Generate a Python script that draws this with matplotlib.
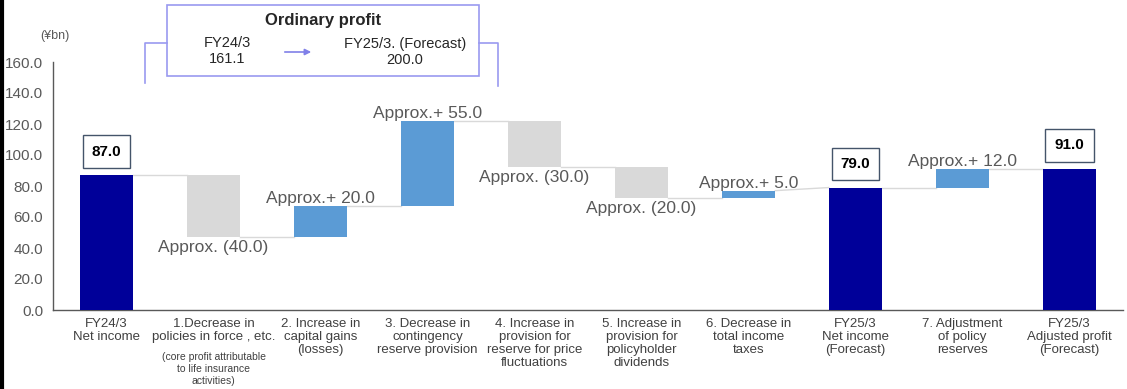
import matplotlib
matplotlib.use("Agg")
import matplotlib.pyplot as plt
from matplotlib.patches import Rectangle, FancyArrowPatch
from matplotlib.lines import Line2D

plt.rcParams["font.family"] = ["Liberation Sans", "DejaVu Sans"]

# Net income bridge, FY24/3 -> FY25/3 (¥bn)
categories = [
    "FY24/3\nNet income",
    "1.Decrease in\npolicies in force , etc.",
    "2. Increase in\ncapital gains\n(losses)",
    "3. Decrease in\ncontingency\nreserve provision",
    "4. Increase in\nprovision for\nreserve for price\nfluctuations",
    "5. Increase in\nprovision for\npolicyholder\ndividends",
    "6. Decrease in\ntotal income\ntaxes",
    "FY25/3\nNet income\n(Forecast)",
    "7. Adjustment\nof policy\nreserves",
    "FY25/3\nAdjusted profit\n(Forecast)",
]
sub_note = "(core profit attributable\nto life insurance\nactivities)"

start_value = 87.0
factor_deltas = [-40.0, 20.0, 55.0, -30.0, -20.0, 5.0]
net_forecast = 79.0
adjust_delta = 12.0
adjusted_forecast = 91.0

ordinary_prev = "161.1"
ordinary_next = "200.0"

NAVY = "#000099"
UP = "#5b9bd5"
DOWN = "#d9d9d9"
TXT = "#595959"

# build bar bottoms/heights
bottoms, heights, colors, kinds = [], [], [], []
bottoms.append(0); heights.append(start_value); colors.append(NAVY); kinds.append("total")
level = start_value
for d in factor_deltas:
    bottoms.append(min(level, level + d)); heights.append(abs(d))
    colors.append(UP if d > 0 else DOWN); kinds.append(d)
    level += d
bottoms.append(0); heights.append(net_forecast); colors.append(NAVY); kinds.append("total")
bottoms.append(net_forecast); heights.append(adjust_delta); colors.append(UP); kinds.append(adjust_delta)
bottoms.append(0); heights.append(adjusted_forecast); colors.append(NAVY); kinds.append("total")

fig = plt.figure(figsize=(11.27, 3.89), dpi=100)
ax = fig.add_axes([53 / 1127, 1 - 310 / 389, 1070 / 1127, 248 / 389])

x = list(range(len(categories)))
w = 0.5
ax.bar(x, heights, bottom=bottoms, width=w, color=colors, zorder=3)

# connector lines between bars
def end_level(i):
    k = kinds[i]
    if k == "total":
        return bottoms[i] + heights[i]
    return bottoms[i] + heights[i] if k > 0 else bottoms[i]

def start_level(i):
    k = kinds[i]
    if k == "total":
        return bottoms[i] + heights[i]
    return bottoms[i] if k > 0 else bottoms[i] + heights[i]

for i in range(len(x) - 1):
    ax.plot([i + w / 2, i + 1 - w / 2], [end_level(i), start_level(i + 1)],
            color="#d9d9d9", lw=1, zorder=2)

# value boxes on totals, approx labels on the factors
for i, k in enumerate(kinds):
    if k == "total":
        top = bottoms[i] + heights[i]
        ax.annotate(f"{top:.1f}", (i, top), xytext=(0, 17), textcoords="offset points",
                    ha="center", va="center", fontsize=11, fontweight="bold", color="black",
                    bbox=dict(boxstyle="square,pad=0.6", fc="white", ec="#44546a", lw=1),
                    zorder=5)
    else:
        if k > 0:
            ax.annotate(f"Approx.+ {k:.1f}", (i, bottoms[i] + heights[i]), xytext=(0, 0),
                        textcoords="offset points", ha="center", va="bottom",
                        fontsize=12.5, color=TXT, zorder=4)
        else:
            ax.annotate(f"Approx. ({-k:.1f})", (i, bottoms[i]), xytext=(0, -2),
                        textcoords="offset points", ha="center", va="top",
                        fontsize=12.5, color=TXT, zorder=4)

ax.set_xlim(-0.5, len(x) - 0.5)
ax.set_ylim(0, 160)
ax.set_yticks([0, 20, 40, 60, 80, 100, 120, 140, 160])
ax.set_yticklabels([f"{v:.1f}" for v in ax.get_yticks()], fontsize=11, color=TXT)
ax.set_xticks(x)
ax.set_xticklabels(categories, fontsize=9.5, color="#404040", linespacing=1.1)
ax.tick_params(axis="both", length=0)
ax.tick_params(axis="x", pad=6)
ax.tick_params(axis="y", pad=7)
for s in ["top", "right"]:
    ax.spines[s].set_visible(False)
for s in ["left", "bottom"]:
    ax.spines[s].set_color("#595959")
    ax.spines[s].set_linewidth(1)

ax.text(1, -0.17, sub_note, transform=ax.get_xaxis_transform(), ha="center", va="top",
        fontsize=7.5, color="#404040", linespacing=1.25)

fig.text(55 / 1127, 1 - 36 / 389, "(¥bn)", ha="center", va="center", fontsize=9, color=TXT)

# ordinary profit callout
def fx(px):
    return px / 1127

def fy(py):
    return 1 - py / 389

LAV = "#9a9af0"
fig.add_artist(Rectangle((fx(167), fy(76)), fx(479) - fx(167), fy(5) - fy(76),
                         transform=fig.transFigure, fill=False, ec=LAV, lw=1.2))
fig.add_artist(Line2D([fx(145), fx(145), fx(167)], [fy(83), fy(43), fy(43)], color=LAV, lw=1.2))
fig.add_artist(Line2D([fx(479), fx(498), fx(498)], [fy(43), fy(43), fy(86)], color=LAV, lw=1.2))
fig.add_artist(FancyArrowPatch((fx(282), fy(52)), (fx(314), fy(52)), transform=fig.transFigure,
                               arrowstyle="-|>", mutation_scale=9, color="#8080e8", lw=1.2))
fig.text(fx(323), fy(20), "Ordinary profit", ha="center", va="center", fontsize=12,
         fontweight="bold", color="#262626")
fig.text(fx(227), fy(51), "FY24/3\n" + ordinary_prev, ha="center", va="center", fontsize=10.5,
         color="#262626", linespacing=1.15)
fig.text(fx(405), fy(52), "FY25/3. (Forecast)\n" + ordinary_next, ha="center", va="center",
         fontsize=10.5, color="#262626", linespacing=1.15)

# dark frame on left edge
fig.add_artist(Line2D([0.0015, 0.0015], [0, 1], color="black", lw=3))

fig.savefig("out.png", dpi=100)
